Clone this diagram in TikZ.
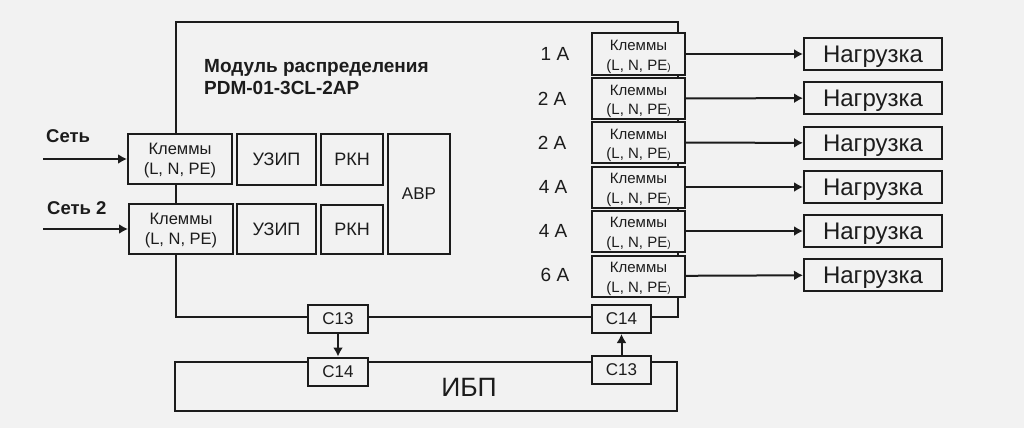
\documentclass[tikz,border=0pt]{standalone}
\usepackage{fontspec}
\setmainfont{Liberation Sans}
\usetikzlibrary{arrows.meta}
\definecolor{bgcol}{HTML}{F2F2F2}
\definecolor{inkcol}{HTML}{1C1C1C}
\newcommand{\fsize}[2]{\fontsize{#1}{#2}\selectfont}
\newcommand{\klemmyin}{\rule{0pt}{15pt}Клеммы\\(L, N, PE)}
\newcommand{\klemmyout}{\rule{0pt}{16pt}Клеммы\\(L, N, PE{\fsize{10}{10})}}
\tikzset{
  unit/.style={draw=inkcol, line width=2pt, fill=bgcol, text=inkcol, inner sep=0pt, align=center, font=\fsize{18}{20}},
  inbox/.style={unit, minimum width=104pt, minimum height=50pt, font=\fsize{16.5}{20}},
  outbox/.style={unit, minimum width=93pt, minimum height=41pt, font=\fsize{15}{19.5}},
  loadbox/.style={unit, minimum width=138pt, minimum height=32pt, font=\fsize{24}{24}, text depth=0pt},
  plugbox/.style={unit, minimum width=60pt, minimum height=28pt, font=\fsize{17}{17}},
  frame/.style={draw=inkcol, line width=2pt, inner sep=0pt},
  txt/.style={text=inkcol, inner sep=0pt},
  wire/.style={draw=inkcol, line width=2pt},
  arrow/.style={wire, -{Latex[length=9pt,width=10pt]}}
}
\begin{document}
\begin{tikzpicture}[x=1pt, y=-1pt]
    \path[use as bounding box, fill=bgcol] (0,0) rectangle (1024,428);
    % outer frames
    \node[frame, minimum width=502pt, minimum height=295pt] (module) at (427,169.5) {};
    \node[frame, minimum width=502pt, minimum height=49pt] (ups) at (426,386.5) {};
    \node[txt, font=\fsize{26.5}{27}] (upslabel) at (469,387) {ИБП};
    \node[txt, anchor=west, align=left, font=\fsize{19}{22}\bfseries] (title) at (204,77) {Модуль распределения\\PDM-01-3CL-2AP};

    % input side
    \node[inbox] (inA) at (180,159) {\klemmyin};
    \node[inbox] (inB) at (181,229) {\klemmyin};
    \node[unit, minimum width=79pt, minimum height=51pt] (uzipA) at (276.5,159.5) {УЗИП};
    \node[unit, minimum width=79pt, minimum height=50pt] (uzipB) at (276.5,229) {УЗИП};
    \node[unit, minimum width=62pt, minimum height=51pt] (rknA) at (352,159.5) {РКН};
    \node[unit, minimum width=62pt, minimum height=49pt] (rknB) at (352,229.5) {РКН};
    \node[unit, minimum width=62pt, minimum height=120pt, font=\fsize{17}{17}] (avr) at (419,194) {АВР};
    \node[txt, anchor=west, font=\fsize{18.5}{19}\bfseries] (netA) at (46,136) {Сеть};
    \node[txt, anchor=west, font=\fsize{18.5}{19}\bfseries] (netB) at (47,208) {Сеть 2};
    \coordinate (srcA) at (43,159);
    \coordinate (srcB) at (43,229);
    \draw[arrow] (srcA) -- (inA);
    \draw[arrow] (srcB) -- (inB);

    % output side
    \node[outbox] (outA) at (638.5,54) {\klemmyout};
    \node[outbox] (outB) at (638.5,98.5) {\klemmyout};
    \node[outbox] (outC) at (638.5,142.5) {\klemmyout};
    \node[outbox] (outD) at (638.5,187) {\klemmyout};
    \node[outbox] (outE) at (638.5,231) {\klemmyout};
    \node[outbox] (outF) at (638.5,276) {\klemmyout};
    \node[loadbox] (loadA) at (873,54) {Нагрузка};
    \node[loadbox] (loadB) at (873,98) {Нагрузка};
    \node[loadbox] (loadC) at (873,143) {Нагрузка};
    \node[loadbox] (loadD) at (873,187) {Нагрузка};
    \node[loadbox] (loadE) at (873,231) {Нагрузка};
    \node[loadbox] (loadF) at (873,275) {Нагрузка};
    \draw[arrow] (outA) -- (loadA);
    \draw[arrow] (outB) -- (loadB);
    \draw[arrow] (outC) -- (loadC);
    \draw[arrow] (outD) -- (loadD);
    \draw[arrow] (outE) -- (loadE);
    \draw[arrow] (outF) -- (loadF);
    \node[txt, font=\fsize{19}{19}] (ampA) at (555,54) {1 А};
    \node[txt, font=\fsize{19}{19}] (ampB) at (552,99) {2 А};
    \node[txt, font=\fsize{19}{19}] (ampC) at (552,143) {2 А};
    \node[txt, font=\fsize{19}{19}] (ampD) at (553,187) {4 А};
    \node[txt, font=\fsize{19}{19}] (ampE) at (553,231) {4 А};
    \node[txt, font=\fsize{19}{19}] (ampF) at (555,275) {6 А};

    % plugs
    \node[plugbox] (plugA) at (338,318.5) {C13};
    \node[plugbox, minimum width=59pt] (plugB) at (621.5,319) {C14};
    \node[plugbox] (plugC) at (338,371.5) {C14};
    \node[plugbox, minimum width=59pt] (plugD) at (621.5,370) {C13};
    \draw[arrow] (plugA) -- (plugC);
    \draw[arrow] (plugD) -- (plugB);
\end{tikzpicture}
\end{document}
